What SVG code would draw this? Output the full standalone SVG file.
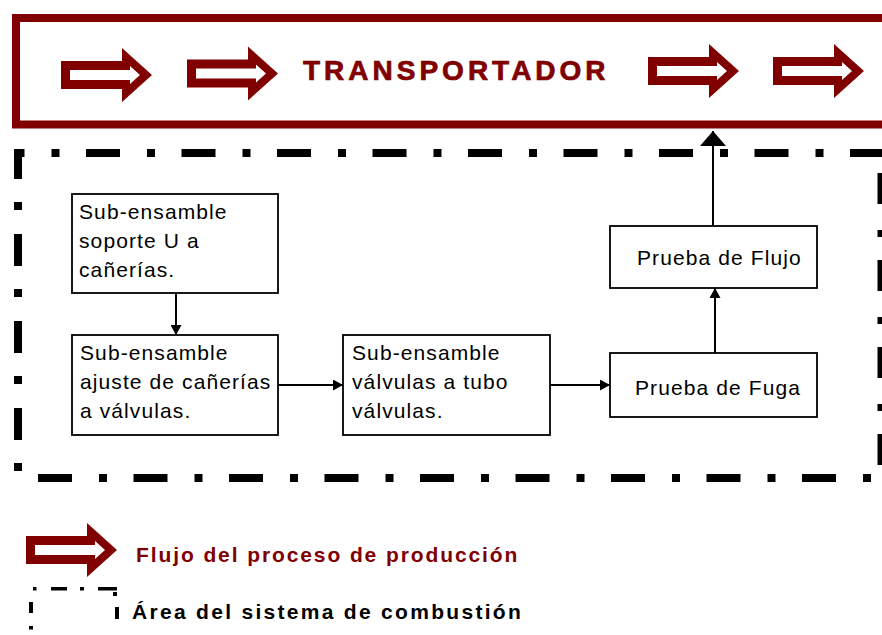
<svg xmlns="http://www.w3.org/2000/svg" width="882" height="635" viewBox="0 0 882 635">
<style>
.box{fill:#fff;stroke:#000;stroke-width:1.8}
.bt{font-family:"Liberation Sans",Arial,sans-serif;font-size:21px;letter-spacing:1.1px;fill:#000}
.con{fill:none;stroke:#000;stroke-width:2}
.dash{fill:none;stroke:#000;stroke-width:8}
.red{fill:#800000}
.lg{font-family:"Liberation Sans",Arial,sans-serif;font-size:21px;font-weight:bold}
</style>
<defs>
<path id="blk" fill-rule="evenodd" d="M0,-14 H61 V-27 L91,0 L61,27 V14 H0 Z M9,-5 V5 H69 V9 L79,0 L69,-9 V-5 Z"/>
<marker id="ah" markerUnits="userSpaceOnUse" markerWidth="11" markerHeight="11" refX="10" refY="5.5" orient="auto"><path d="M0,0 L10,5.5 L0,11 Z" fill="#000"/></marker>
<marker id="ahb" markerUnits="userSpaceOnUse" markerWidth="16" markerHeight="26" refX="15" refY="13" orient="auto"><path d="M0,0 L15,13 L0,26 Z" fill="#000"/></marker>
</defs>

<g id="transportador">
<rect x="16" y="18" width="880" height="106.5" fill="#fff" stroke="#800000" stroke-width="8"/>
<use href="#blk" class="red" transform="translate(61,75)"/>
<use href="#blk" class="red" transform="translate(187,73.5)"/>
<use href="#blk" class="red" transform="translate(648,71)"/>
<use href="#blk" class="red" transform="translate(773,71)"/>
<text x="303" y="79.5" font-family="'Liberation Sans',Arial,sans-serif" font-size="28" font-weight="bold" letter-spacing="4" fill="#800000" stroke="#800000" stroke-width="0.7">TRANSPORTADOR</text>
</g>

<g id="area-combustion">
<path class="dash" d="M18,153 H882" stroke-dasharray="34 27 8 26.5" stroke-dashoffset="27.5"/>
<path class="dash" d="M18,478 H882" stroke-dasharray="34 27 8 26.5" stroke-dashoffset="75.5"/>
<path class="dash" d="M18,149 V482" stroke-dasharray="32 23 8 24" stroke-dashoffset="2"/>
<path class="dash" d="M881.5,157 V482" stroke-dasharray="31 26 7 23" stroke-dashoffset="71"/>
</g>

<g id="n1">
<rect class="box" x="72" y="194" width="206" height="99"/>
<text class="bt" x="79" y="219">Sub-ensamble</text>
<text class="bt" x="79" y="248">soporte U a</text>
<text class="bt" x="79" y="277">cañerías.</text>
</g>
<g id="n2">
<rect class="box" x="72" y="335" width="206" height="100"/>
<text class="bt" x="80" y="360">Sub-ensamble</text>
<text class="bt" x="80" y="389">ajuste de cañerías</text>
<text class="bt" x="80" y="418">a válvulas.</text>
</g>
<g id="n3">
<rect class="box" x="343" y="335" width="207" height="100"/>
<text class="bt" x="352" y="360">Sub-ensamble</text>
<text class="bt" x="352" y="389">válvulas a tubo</text>
<text class="bt" x="352" y="418">válvulas.</text>
</g>
<g id="n4">
<rect class="box" x="610" y="353" width="207" height="64"/>
<text class="bt" x="635" y="395">Prueba de Fuga</text>
</g>
<g id="n5">
<rect class="box" x="610" y="226" width="207" height="62"/>
<text class="bt" x="637" y="265">Prueba de Flujo</text>
</g>

<g id="connectors">
<path class="con" d="M176,293 V335" marker-end="url(#ah)"/>
<path class="con" d="M278,385 H343" marker-end="url(#ah)"/>
<path class="con" d="M550,385 H610" marker-end="url(#ah)"/>
<path class="con" d="M715,353 V288" marker-end="url(#ah)"/>
<path class="con" d="M713,226 V131" marker-end="url(#ahb)"/>
</g>

<g id="legend">
<use href="#blk" class="red" transform="translate(26,550)"/>
<text class="lg" x="136" y="562" letter-spacing="1.9" fill="#800000">Flujo del proceso de producción</text>
<g fill="#000">
<rect x="33" y="587" width="3.5" height="3.5"/>
<rect x="51" y="587" width="16" height="3.5"/>
<rect x="80" y="587" width="4" height="3.5"/>
<rect x="98" y="587" width="19" height="3.5"/>
<rect x="113" y="592" width="4" height="4"/>
<rect x="29" y="602" width="4" height="11"/>
<rect x="29" y="626" width="4" height="3.5"/>
<rect x="115" y="607" width="4" height="12"/>
</g>
<text class="lg" x="132" y="619" letter-spacing="2.3" fill="#000">Área del sistema de combustión</text>
</g>
</svg>
